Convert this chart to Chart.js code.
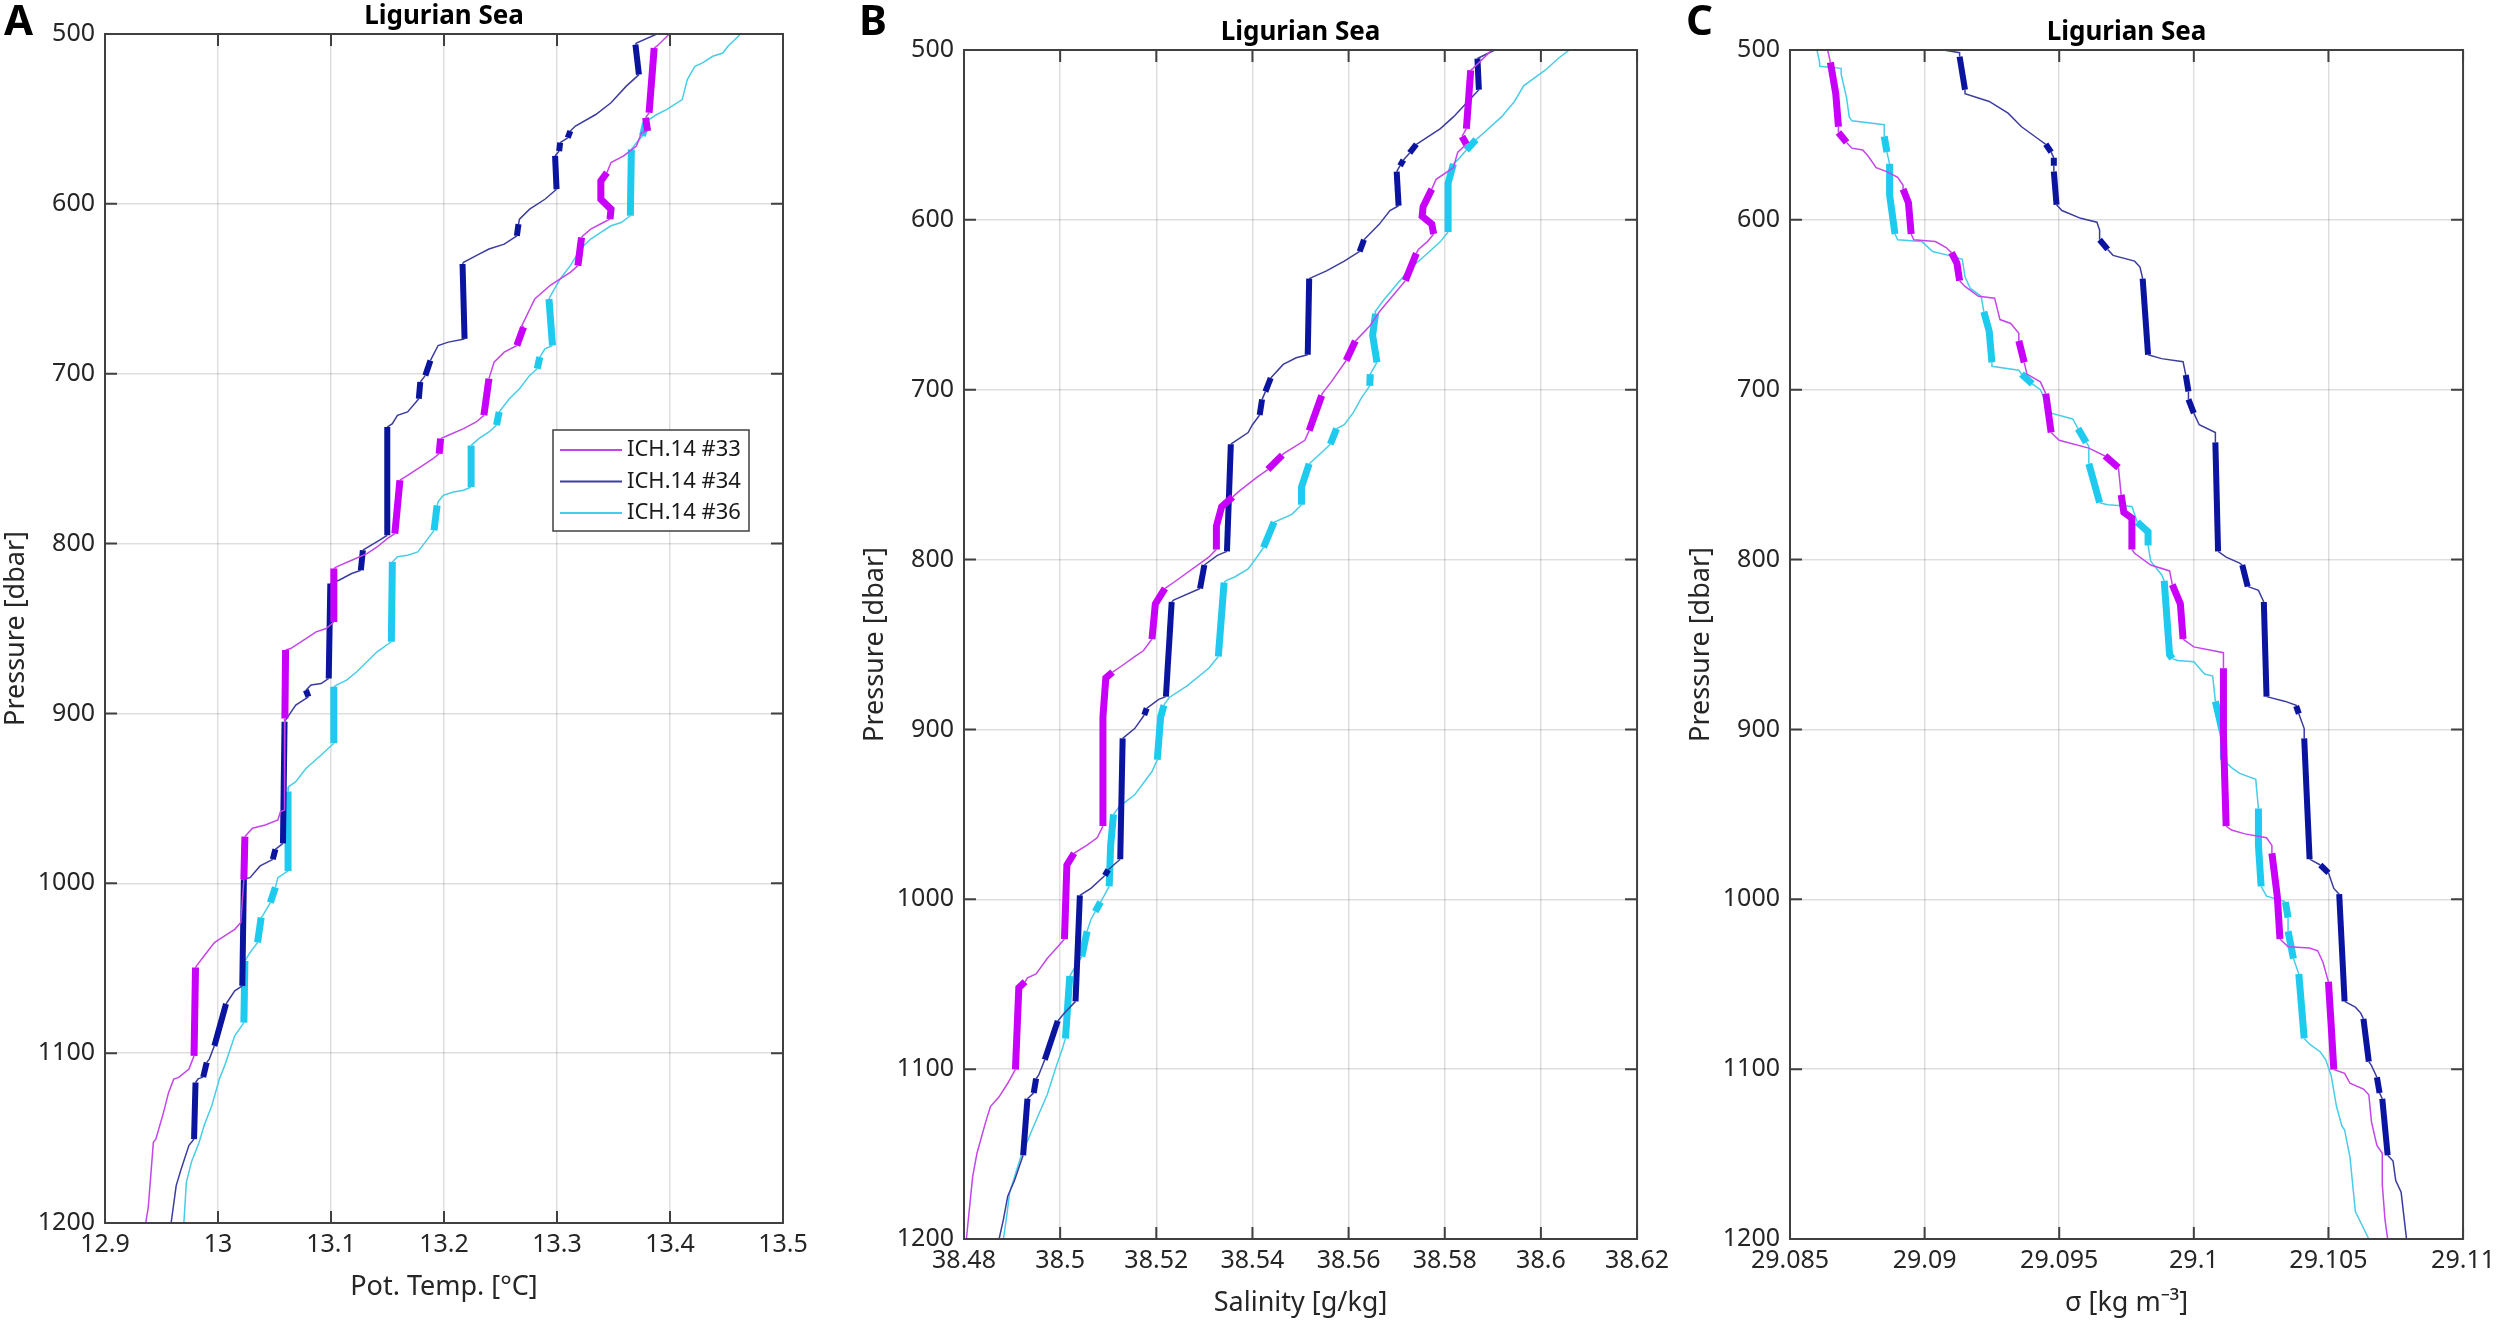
<!DOCTYPE html>
<html>
<head>
<meta charset="utf-8">
<script src="https://cdn.jsdelivr.net/npm/chart.js@4.4.0/dist/chart.umd.min.js"></script>
<style>
  html, body { margin: 0; padding: 0; background: #fff; }
  body { width: 2500px; height: 1331px; position: relative; overflow: hidden; }
  canvas { position: absolute; }
  .tag { position: absolute; font: bold 42px 'Noto Sans', sans-serif; line-height: 42px; color: #000; }
</style>
</head>
<body>
<canvas id="panelA" width="817" height="1315" style="left:0px;top:0px"></canvas>
<canvas id="panelB" width="817" height="1315" style="left:859px;top:16px"></canvas>
<canvas id="panelC" width="817" height="1315" style="left:1685px;top:16px"></canvas>
<div class="tag" style="left:4px;top:-2px">A</div>
<div class="tag" style="left:859px;top:-2px">B</div>
<div class="tag" style="left:1686px;top:-2px">C</div>
<script>
// profile names, one per cast
const castNames = ['ICH.14 #33', 'ICH.14 #34', 'ICH.14 #36'];
const thinColors = ['#c445ea', '#3c3ca0', '#48cde8'];
const layerColors = ['#c800fa', '#0a149e', '#1ecbef'];

const pressureTicks = [500, 600, 700, 800, 900, 1000, 1100, 1200];
const tempTicks = [12.9, 13, 13.1, 13.2, 13.3, 13.4, 13.5];
const salTicks = [38.48, 38.5, 38.52, 38.54, 38.56, 38.58, 38.6, 38.62];
const sigmaTicks = [29.085, 29.09, 29.095, 29.1, 29.105, 29.11];

// [pressure, pot. temperature]
const temp33 = [[500,13.3995],[507.2,13.3883],[508.2,13.386],[546.4,13.3815],[549.3,13.3784],[557.1,13.3802],[558.1,13.3748],[566,13.3703],[571.8,13.359],[575.7,13.3478],[581.6,13.3442],[586.5,13.3388],[597.3,13.3388],[603.1,13.3478],[609,13.3469],[611,13.341],[614.9,13.3298],[618.8,13.323],[619.8,13.3217],[636.4,13.3185],[640.3,13.3118],[644.2,13.3028],[648.1,13.2938],[656,13.2803],[671.6,13.269],[672.6,13.2704],[683.4,13.2645],[687.3,13.2533],[693.2,13.2443],[702.9,13.2398],[724.5,13.2353],[728.4,13.2285],[732.3,13.2173],[736.2,13.2038],[738.2,13.197],[747.1,13.1957],[750,13.1903],[753.9,13.1813],[759.8,13.1678],[762.7,13.161],[794.1,13.1565],[797.1,13.1498],[802,13.1408],[805.9,13.1318],[809.8,13.1183],[813.7,13.1048],[814.7,13.1025],[846.1,13.1025],[850,13.0958],[852,13.0868],[855.9,13.0778],[861.8,13.0643],[862.7,13.0598],[903,13.0592],[956.9,13.0589],[957.8,13.0553],[962.7,13.053],[965.7,13.0418],[967.6,13.0305],[972.5,13.0238],[997.6,13.0229],[1023.1,13.0202],[1027.1,13.0148],[1029,13.0103],[1034.9,12.9968],[1042.7,12.9878],[1048.6,12.981],[1049.6,12.9801],[1101.6,12.9788],[1109.4,12.9743],[1114.3,12.9653],[1115.3,12.9608],[1123.1,12.9563],[1134.9,12.9518],[1150.6,12.945],[1152.5,12.9428],[1190.8,12.9383],[1200,12.936]];
const temp34 = [[500,13.3883],[505.3,13.3703],[506.3,13.3694],[523.9,13.3725],[530.7,13.3613],[540.5,13.3478],[547.4,13.3343],[554.2,13.3163],[557.1,13.3118],[561.1,13.3095],[564,13.3028],[568.9,13.3019],[571.8,13.2983],[591.4,13.2996],[597.3,13.2893],[603.1,13.2758],[609,13.2668],[611.9,13.2659],[618.8,13.2645],[623.7,13.2533],[626.6,13.2398],[630.5,13.2285],[634.4,13.2173],[635.4,13.2164],[679.5,13.2182],[681.4,13.2038],[683.4,13.1948],[692.2,13.188],[701,13.1835],[704.9,13.179],[714.7,13.1777],[722.5,13.1678],[724.5,13.1588],[729.4,13.1543],[731.4,13.1498],[795.1,13.1498],[798,13.143],[803.9,13.1282],[815.7,13.1264],[817.6,13.1183],[821.6,13.107],[823.5,13.0994],[879.4,13.098],[882.4,13.0913],[883.3,13.0823],[886.3,13.0778],[890.2,13.08],[895.1,13.0688],[903.9,13.0598],[904.9,13.0589],[976.5,13.0575],[980,13.0508],[985.9,13.0485],[989.8,13.0373],[996.7,13.0283],[997.6,13.0229],[1060.4,13.0215],[1063.3,13.0148],[1070.2,13.008],[1071,13.0071],[1095.7,12.9968],[1103.5,12.9923],[1105.5,12.99],[1114.1,12.9869],[1115.1,12.9824],[1117.3,12.9801],[1150.6,12.9788],[1154.3,12.9743],[1168,12.9675],[1178,12.963],[1200,12.9585]];
const temp36 = [[500,13.4625],[507.2,13.4513],[511.2,13.4468],[513.1,13.4378],[517,13.4288],[519,13.422],[526.8,13.4153],[538.6,13.4108],[544.4,13.3973],[547.4,13.3883],[551.3,13.3793],[552.3,13.3784],[560.1,13.3757],[564,13.3703],[567.9,13.3658],[607,13.3649],[611,13.3568],[612.9,13.3478],[616.8,13.3388],[620.7,13.3298],[626.6,13.3208],[636.4,13.3118],[644.2,13.3028],[652.1,13.296],[656,13.2929],[683.4,13.296],[685.3,13.2893],[690.2,13.2848],[697.1,13.2825],[701,13.2758],[708.8,13.2668],[714.7,13.2578],[722.5,13.2488],[730.3,13.2465],[734.3,13.2398],[738.2,13.2308],[742.2,13.224],[766.7,13.224],[768.6,13.2173],[769.6,13.2083],[771.6,13.1993],[775.5,13.1948],[777.5,13.1939],[792.2,13.1912],[797.1,13.1858],[804.9,13.1768],[806.9,13.1678],[807.8,13.1588],[810.8,13.1543],[857.8,13.1534],[863.7,13.1408],[869.6,13.1318],[875.5,13.1228],[880.4,13.1138],[883.3,13.1048],[884.3,13.1025],[917.6,13.1025],[924.5,13.0913],[932.4,13.0778],[940.2,13.0688],[943.1,13.0625],[946,13.062],[992.7,13.062],[996.7,13.053],[1002.4,13.0508],[1011.4,13.0463],[1019.2,13.0395],[1020.2,13.0382],[1034.9,13.035],[1040.8,13.0283],[1045.7,13.0238],[1082,13.0229],[1089.8,13.0148],[1107.5,13.0058],[1115.1,13.0013],[1131,12.9945],[1142.5,12.9878],[1152.5,12.9833],[1164.1,12.9765],[1176.1,12.972],[1200,12.9698]];

// layers (pressure ranges) drawn thick
const tempLayers33 = [[508.2,546.4],[549.3,557.1],[581.6,609],[619.8,636.4],[672.6,683.4],[702.9,724.5],[738.2,747.1],[762.7,794.1],[814.7,846.1],[862.7,903],[972.5,997.6],[1049.6,1101.6]];
const tempLayers34 = [[506.3,523.9],[557.1,561.1],[564,568.9],[571.8,591.4],[611.9,618.8],[635.4,679.5],[692.2,701],[704.9,714.7],[731.4,795.1],[803.9,815.7],[823.5,879.4],[886.3,890.2],[904.9,976.5],[980,985.9],[997.6,1060.4],[1071,1095.7],[1105.5,1114.1],[1117.3,1150.6]];
const tempLayers36 = [[552.3,560.1],[567.9,607],[656,683.4],[690.2,697.1],[722.5,730.3],[742.2,766.7],[777.5,792.2],[810.8,857.8],[884.3,917.6],[946,992.7],[1002.4,1011.4],[1020.2,1034.9],[1045.7,1082]];

// [pressure, salinity]
const sal33 = [[500,38.5898],[510.8,38.5859],[511.9,38.5854],[546.3,38.5845],[550.9,38.5836],[555.5,38.5845],[560.1,38.5827],[569.3,38.5818],[576.1,38.5782],[581.9,38.5773],[592.2,38.5755],[597.9,38.5753],[602.5,38.5773],[608.3,38.5777],[612.8,38.5764],[617.4,38.5745],[619.7,38.5741],[635.8,38.5718],[645,38.5691],[654.1,38.5664],[662.2,38.5645],[670.2,38.5618],[671.3,38.5614],[682.8,38.5595],[695.4,38.5564],[702.3,38.5545],[703.4,38.5544],[724.1,38.5518],[729.8,38.5509],[737.8,38.5464],[738.5,38.5462],[747,38.5432],[751.6,38.5409],[759.6,38.5373],[763.1,38.5359],[768.8,38.5336],[780.3,38.5325],[794,38.5325],[798.6,38.5309],[813.5,38.5236],[817,38.5218],[826.1,38.5198],[846.8,38.5191],[853.7,38.5173],[857.1,38.5155],[862.8,38.5127],[866.3,38.5109],[869.7,38.5095],[892.7,38.5089],[956.9,38.5089],[963.8,38.5077],[968.3,38.5055],[972.9,38.5029],[979.8,38.5014],[1023.4,38.5009],[1028,38.4995],[1034.9,38.4973],[1044,38.495],[1046.3,38.4932],[1048.6,38.4927],[1052.1,38.4914],[1100.2,38.4907],[1108.3,38.4891],[1116.3,38.4873],[1122,38.4855],[1131.2,38.4845],[1149.5,38.4827],[1163.3,38.4818],[1188.5,38.4809],[1200,38.4805]];
const sal34 = [[500,38.5904],[505,38.5868],[523.4,38.5871],[539.4,38.5818],[546.3,38.5791],[555.5,38.5741],[560.6,38.5727],[564.7,38.5714],[568.1,38.5707],[571.6,38.57],[591.7,38.5704],[594.5,38.5686],[602.5,38.5664],[611.7,38.5632],[618.6,38.5623],[624.3,38.5591],[630,38.5554],[634.6,38.5518],[679.4,38.5515],[681.2,38.5491],[685.1,38.5464],[693.1,38.5438],[701.1,38.5427],[705.7,38.542],[714.9,38.5415],[720.6,38.54],[725.2,38.5391],[732.1,38.5355],[795.2,38.5347],[797.5,38.5327],[803.2,38.53],[817,38.5291],[823.9,38.5236],[825,38.5232],[880.7,38.522],[882.3,38.5205],[887.6,38.518],[891.5,38.5175],[899.5,38.5155],[905.3,38.513],[976.4,38.5125],[982.6,38.51],[986,38.5093],[993.6,38.5064],[997.7,38.5041],[1060.1,38.5032],[1067,38.5009],[1071.6,38.4995],[1094.5,38.4968],[1103.7,38.4955],[1105.5,38.495],[1114,38.4945],[1117.4,38.4932],[1150.7,38.4923],[1165.6,38.4905],[1174.8,38.4891],[1188.5,38.4882],[1200,38.4873]];
const sal36 = [[500,38.6059],[505,38.6036],[511.9,38.6009],[521.1,38.5964],[530.3,38.5945],[539.4,38.5918],[548.6,38.5882],[552.8,38.5865],[558.9,38.5845],[564.7,38.5827],[567,38.5818],[578.4,38.5807],[607.1,38.5807],[612.8,38.5791],[622,38.5755],[628.9,38.5727],[638.1,38.57],[647.2,38.5673],[654.1,38.5655],[655.3,38.5656],[667.9,38.565],[683.9,38.5659],[690.8,38.5645],[697.7,38.5644],[704.6,38.5627],[713.8,38.5609],[720.6,38.5591],[722.9,38.5575],[732.1,38.5562],[739,38.5536],[743.6,38.5518],[757.3,38.5502],[767.7,38.5502],[773.4,38.5482],[778,38.5445],[792.9,38.5423],[798.6,38.5409],[805.5,38.5391],[810.1,38.5364],[812.4,38.5345],[813.5,38.5341],[857.1,38.5329],[864,38.5309],[874.3,38.5264],[881.2,38.5227],[884.6,38.5218],[885.8,38.5216],[892.7,38.5209],[917.9,38.5202],[924.8,38.5191],[938.5,38.5155],[945.4,38.5123],[950,38.5111],[968.3,38.5105],[992.4,38.5102],[998.2,38.5091],[1001.6,38.5084],[1007.3,38.5073],[1011.9,38.5064],[1018.8,38.5056],[1033.7,38.5045],[1039.4,38.5032],[1045.2,38.502],[1081.9,38.5011],[1087.6,38.5005],[1099.1,38.4991],[1115.1,38.4973],[1133.5,38.4945],[1151.8,38.4918],[1172.5,38.4895],[1186.2,38.4889],[1200,38.4882]];

const salLayers33 = [[511.9,546.3],[550.9,555.5],[581.9,608.3],[619.7,635.8],[671.3,682.8],[703.4,724.1],[738.5,747],[763.1,794],[817,846.8],[866.3,956.9],[972.9,1023.4],[1048.6,1100.2]];
const salLayers34 = [[505,523.4],[555.5,560.6],[564.7,568.1],[571.6,591.7],[611.7,618.6],[634.6,679.4],[693.1,701.1],[705.7,714.9],[732.1,795.2],[803.2,817],[825,880.7],[887.6,891.5],[905.3,976.4],[982.6,986],[997.7,1060.1],[1071.6,1094.5],[1105.5,1114],[1117.4,1150.7]];
const salLayers36 = [[552.8,558.9],[567,607.1],[655.3,683.9],[690.8,697.7],[722.9,732.1],[743.6,767.7],[778,792.9],[813.5,857.1],[885.8,917.9],[950,992.4],[1001.6,1007.3],[1018.8,1033.7],[1045.2,1081.9]];

// [pressure, sigma]
const sig33 = [[500,29.0864],[507.3,29.0865],[525.7,29.0867],[545.2,29.0868],[548.6,29.0868],[554.4,29.0871],[557.8,29.0873],[558.9,29.0877],[562.4,29.0879],[569.3,29.0882],[571.6,29.0886],[575,29.089],[579.6,29.0892],[581.9,29.0892],[589.9,29.0894],[608.3,29.0895],[611.7,29.0896],[612.8,29.0904],[616.3,29.0908],[619.3,29.091],[625.5,29.0912],[635.8,29.0913],[639.2,29.0915],[645,29.092],[646.1,29.0926],[658.7,29.0928],[661,29.0932],[666.7,29.0935],[671.3,29.0935],[683.9,29.0937],[690.8,29.0938],[695.4,29.0943],[702.3,29.0945],[725.2,29.0947],[729.8,29.095],[734.4,29.0961],[739,29.0967],[745.9,29.0972],[761.9,29.0973],[772.2,29.0974],[775.7,29.0977],[794,29.0977],[796.3,29.0978],[803.2,29.0984],[806.7,29.0991],[814.7,29.0992],[826.1,29.0995],[846.8,29.0996],[851.4,29.1],[854.8,29.1011],[864,29.1011],[904.1,29.1011],[956.9,29.1012],[959.2,29.1014],[961.5,29.1019],[963.8,29.1027],[968.3,29.1029],[972.9,29.1029],[998.2,29.1031],[1023.4,29.1032],[1028,29.1035],[1028.7,29.1043],[1030.3,29.1046],[1037.2,29.1048],[1048.6,29.105],[1073.9,29.1051],[1100.2,29.1052],[1102.5,29.1056],[1108.3,29.1058],[1111.7,29.1063],[1115.1,29.1065],[1131.2,29.1066],[1144.9,29.1068],[1149.5,29.107],[1167.9,29.107],[1188.5,29.1071],[1200,29.1072]];
const sig34 = [[500,29.0907],[501.6,29.0913],[503.9,29.0913],[523.4,29.0915],[525.7,29.0915],[530.3,29.0924],[537.2,29.0931],[545.2,29.0936],[552.1,29.0942],[555.5,29.0945],[560.1,29.0947],[563.5,29.0948],[568.1,29.0948],[571.6,29.0948],[591.1,29.0949],[594.5,29.0951],[599.1,29.0958],[601.4,29.0964],[606,29.0965],[611.7,29.0965],[617.4,29.0968],[620.9,29.097],[624.3,29.0978],[627.8,29.098],[634.6,29.0981],[679.4,29.0983],[681.7,29.0988],[683.5,29.0996],[691.3,29.0997],[701.1,29.0998],[705.7,29.0998],[713.8,29.1],[720.6,29.1002],[725.2,29.1008],[731,29.1008],[795.2,29.1009],[798.6,29.1012],[802.1,29.1017],[803.2,29.1018],[815.8,29.102],[818.1,29.1024],[825,29.1026],[880.7,29.1027],[883.5,29.1034],[885.8,29.1038],[886.2,29.1038],[890.8,29.1039],[899.5,29.1041],[905.3,29.1041],[976.4,29.1043],[979.8,29.1047],[984.4,29.105],[993.6,29.1052],[997,29.1054],[1060.1,29.1056],[1063.5,29.106],[1067,29.1062],[1070.4,29.1063],[1095.6,29.1065],[1097.9,29.1066],[1104.8,29.1068],[1114,29.1069],[1117.4,29.107],[1150.7,29.1072],[1154.1,29.1074],[1165.6,29.1075],[1172.5,29.1077],[1186.2,29.1078],[1200,29.1079]];
const sig36 = [[500,29.086],[507.3,29.0861],[509.6,29.0861],[510.8,29.0869],[514.2,29.0869],[528,29.0871],[539.4,29.0872],[541.7,29.0873],[544,29.0885],[550.9,29.0885],[560.1,29.0886],[567,29.0887],[585.3,29.0887],[608.3,29.0889],[611.7,29.089],[612.8,29.0899],[618.6,29.0903],[620.9,29.0909],[623.2,29.0914],[633.5,29.0915],[640.4,29.0917],[645,29.0921],[654.1,29.0922],[665.6,29.0924],[683.9,29.0925],[686.2,29.0925],[688.5,29.0935],[690.8,29.0936],[696.6,29.094],[700,29.0943],[713.8,29.0947],[717.2,29.0955],[722.9,29.0957],[731,29.096],[733.3,29.0961],[743.6,29.0961],[766.5,29.0965],[767.7,29.0968],[768.8,29.0977],[778,29.0979],[783.7,29.0983],[791.7,29.0983],[800.9,29.0984],[808.9,29.0988],[812.4,29.0989],[856,29.0991],[858.3,29.0992],[859.4,29.0994],[860.1,29.1],[867.4,29.1004],[868.6,29.1007],[883.5,29.1008],[904.1,29.1011],[917.9,29.1011],[922.5,29.1014],[925.9,29.1017],[929.4,29.1023],[946.6,29.1024],[968.3,29.1024],[992.4,29.1025],[998.2,29.1027],[1000.9,29.1033],[1001.6,29.1034],[1010.8,29.1035],[1018.8,29.1035],[1034.9,29.1037],[1039.4,29.1038],[1044,29.1039],[1081.9,29.1041],[1085.3,29.1043],[1089.9,29.1047],[1094.5,29.1049],[1103.7,29.1051],[1122,29.1053],[1133.5,29.1055],[1135.8,29.1056],[1151.8,29.1058],[1183.9,29.106],[1200,29.1065]];

const sigLayers33 = [[507.3,545.2],[548.6,554.4],[581.9,608.3],[619.3,635.8],[671.3,683.9],[702.3,725.2],[739,745.9],[761.9,794],[814.7,846.8],[864,956.9],[972.9,1023.4],[1048.6,1100.2]];
const sigLayers34 = [[503.9,523.4],[555.5,560.1],[563.5,568.1],[571.6,591.1],[611.7,617.4],[634.6,679.4],[691.3,701.1],[705.7,713.8],[731,795.2],[803.2,815.8],[825,880.7],[886.2,890.8],[905.3,976.4],[979.8,984.4],[997,1060.1],[1070.4,1095.6],[1104.8,1114],[1117.4,1150.7]];
const sigLayers36 = [[550.9,560.1],[567,608.3],[654.1,683.9],[690.8,696.6],[722.9,731],[743.6,766.5],[778,791.7],[812.4,858.3],[883.5,917.9],[946.6,992.4],[1001.6,1010.8],[1018.8,1034.9],[1044,1081.9]];

Chart.defaults.font.family = "'Noto Sans', 'Open Sans', sans-serif";
Chart.defaults.color = '#262626';

const frame = {
  id: 'frame',
  afterDraw(chart, args, opts) {
    const {ctx, chartArea: a, scales} = chart;
    ctx.save();
    ctx.fillStyle = '#000';
    ctx.font = "bold 26px 'Noto Sans'";
    ctx.textAlign = 'center';
    ctx.textBaseline = 'middle';
    ctx.fillText(opts.title, (a.left + a.right) / 2, a.top - 17);

    // inner tick marks + box
    ctx.strokeStyle = '#404040';
    ctx.lineWidth = 2;
    ctx.beginPath();
    scales.x.ticks.forEach(t => {
      const px = scales.x.getPixelForValue(t.value);
      ctx.moveTo(px, a.bottom); ctx.lineTo(px, a.bottom - 12);
      ctx.moveTo(px, a.top); ctx.lineTo(px, a.top + 12);
    });
    scales.y.ticks.forEach(t => {
      const py = scales.y.getPixelForValue(t.value);
      ctx.moveTo(a.left, py); ctx.lineTo(a.left + 12, py);
      ctx.moveTo(a.right, py); ctx.lineTo(a.right - 12, py);
    });
    ctx.stroke();
    ctx.strokeRect(a.left, a.top, a.right - a.left, a.bottom - a.top);

    if (opts.legend) {
      const L = opts.legend;
      ctx.fillStyle = '#fff';
      ctx.fillRect(L.x, L.y, L.w, L.h);
      ctx.lineWidth = 1.5;
      ctx.strokeStyle = '#404040';
      ctx.strokeRect(L.x, L.y, L.w, L.h);
      ctx.font = "22px 'Noto Sans'";
      ctx.textAlign = 'left';
      ctx.textBaseline = 'middle';
      chart.data.datasets.forEach((ds, i) => {
        const ry = L.y + 20 + i * 31.5;
        ctx.strokeStyle = ds.borderColor;
        ctx.lineWidth = 2;
        ctx.beginPath();
        ctx.moveTo(L.x + 7, ry); ctx.lineTo(L.x + 69, ry);
        ctx.stroke();
        ctx.fillStyle = '#1a1a1a';
        ctx.fillText(ds.label, L.x + 74, ry);
      });
    }
    ctx.restore();
  }
};

function castDataset(i, profile, layers) {
  const inLayer = c => layers.some(([a, b]) => c.p0.parsed.y >= a - 0.01 && c.p1.parsed.y <= b + 0.01);
  return {
    label: castNames[i],
    data: profile.map(([p, v]) => ({x: v, y: p})),
    showLine: true,
    pointRadius: 0,
    borderColor: thinColors[i],
    borderWidth: 1.5,
    segment: {
      borderColor: c => inLayer(c) ? layerColors[i] : thinColors[i],
      borderWidth: c => inLayer(c) ? (i === 1 ? 6 : 7) : 1.5
    }
  };
}

function makePanel(id, cfg) {
  const grid = {color: 'rgba(0,0,0,0.13)', lineWidth: 1.5, drawTicks: false};
  return new Chart(document.getElementById(id), {
    type: 'scatter',
    data: {datasets: cfg.datasets},
    options: {
      responsive: false,
      animation: false,
      devicePixelRatio: 1,
      layout: {padding: {top: 34, right: 34, bottom: 0, left: 0}},
      plugins: {
        legend: {display: false},
        tooltip: {enabled: false},
        frame: {title: 'Ligurian Sea', legend: cfg.legend}
      },
      scales: {
        x: {
          type: 'linear', min: cfg.xTicks[0], max: cfg.xTicks[cfg.xTicks.length - 1],
          afterBuildTicks: s => { s.ticks = cfg.xTicks.map(v => ({value: v})); },
          afterFit: s => { s.height = 92; },
          grid: grid, border: {display: false},
          ticks: {font: {size: 25}, padding: 7, maxRotation: 0, autoSkip: false, callback: v => String(v)},
          title: {display: true, text: cfg.xTitle, font: {size: 27}, padding: {top: 0, bottom: 11}}
        },
        y: {
          type: 'linear', reverse: true, min: 500, max: 1200,
          afterBuildTicks: s => { s.ticks = pressureTicks.map(v => ({value: v})); },
          afterFit: s => { s.width = 105; },
          grid: grid, border: {display: false},
          ticks: {font: {size: 25}, padding: 10, callback: v => String(v)},
          title: {display: true, text: 'Pressure [dbar]', font: {size: 27}, padding: {top: 0, bottom: 0}}
        }
      }
    },
    plugins: [frame]
  });
}

makePanel('panelA', {
  xTicks: tempTicks, xTitle: 'Pot. Temp. [°C]',
  legend: {x: 553, y: 430, w: 196, h: 101},
  datasets: [castDataset(0, temp33, tempLayers33), castDataset(1, temp34, tempLayers34), castDataset(2, temp36, tempLayers36)]
});
makePanel('panelB', {
  xTicks: salTicks, xTitle: 'Salinity [g/kg]',
  datasets: [castDataset(0, sal33, salLayers33), castDataset(1, sal34, salLayers34), castDataset(2, sal36, salLayers36)]
});
makePanel('panelC', {
  xTicks: sigmaTicks, xTitle: 'σ [kg m⁻³]',
  datasets: [castDataset(0, sig33, sigLayers33), castDataset(1, sig34, sigLayers34), castDataset(2, sig36, sigLayers36)]
});
</script>
</body>
</html>
